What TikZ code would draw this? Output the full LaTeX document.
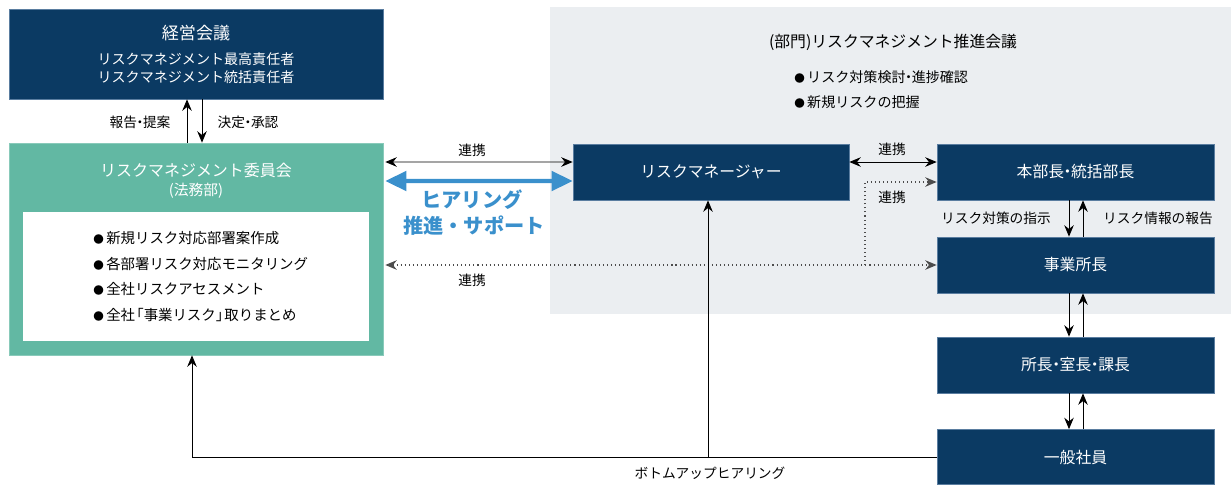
\documentclass[tikz,border=0pt]{standalone}
\usepackage{fontspec}
\setmainfont{Noto Sans CJK JP}
\usepackage{tikz}
\usetikzlibrary{arrows.meta,positioning,calc}

\definecolor{rmnavy}{HTML}{0B3A63}
\definecolor{rmedge}{HTML}{5A7DA0}
\definecolor{rmteal}{HTML}{62B8A3}
\definecolor{rmgray}{HTML}{EBEEF1}
\definecolor{rmblue}{HTML}{3A90CC}
\newcommand\ndot{\kern-.28em・\kern-.28em}
\newcommand\rmbul{{\fontsize{6}{6}\selectfont ●}\,}

\begin{document}
\begin{tikzpicture}[x=0.02cm, y=0.02cm,
  every node/.style={inner sep=0pt},
  navybox/.style={fill=rmnavy, draw=rmedge, line width=0.4pt, text=white,
    font=\fontsize{9}{11}\selectfont, minimum width=5.54cm, minimum height=1.12cm},
  lbl/.style={font=\fontsize{7.8}{9}\selectfont},
  arr/.style={-{Stealth[length=6.5pt,width=5.4pt]}, line width=0.5pt},
  arrs/.style={{Stealth[length=6.5pt,width=5.4pt]}-{Stealth[length=6.5pt,width=5.4pt]}, line width=0.5pt},
  dots/.style={dash pattern=on 0.6pt off 1.7pt, line width=0.6pt, black!70}]
\useasboundingbox (0,0) rectangle (1231,-484);
% (部門) area
\fill [rmgray] (550,-7) rectangle (1231,-314);
\node (suishinT) at (893,-42) {\fontsize{9}{11}\selectfont (部門)リスクマネジメント推進会議};
\node [anchor=west, align=left, font=\fontsize{8}{14.3}\selectfont] (suishinL) at (794,-89.5)
  {\rmbul リスク対策検討\ndot 進捗確認\\\rmbul 新規リスクの把握};
% left side
\node [navybox, minimum width=7.48cm, minimum height=1.8cm] (keiei) at (196,-54) {};
\node [text=white, font=\fontsize{9.7}{11}\selectfont] (keieiT) at (196,-33) {経営会議};
\node [text=white, align=center, font=\fontsize{8}{10.2}\selectfont] (keieiS) at (196,-68)
  {リスクマネジメント最高責任者\\リスクマネジメント統括責任者};
\node [fill=rmteal, draw=rmteal!75!white, line width=0.4pt, minimum width=7.48cm, minimum height=4.24cm] (iinkai) at (196,-249) {};
\node [fill=white, minimum width=6.92cm, minimum height=2.58cm] (naiyo) at (196,-276.5) {};
\node [text=white, font=\fontsize{9.1}{11}\selectfont] (iinkaiT) at (196,-170) {リスクマネジメント委員会};
\node [text=white, font=\fontsize{8.4}{10}\selectfont] (iinkaiS) at (196,-191) {(法務部)};
\node [anchor=west, align=left, font=\fontsize{8.2}{14.5}\selectfont] (naiyoL) at (93,-276.5)
  {\rmbul 新規リスク対応部署案作成\\\rmbul 各部署リスク対応モニタリング\\\rmbul 全社リスクアセスメント\\\rmbul 全社\kern-.4em「事業リスク」\kern-.4em 取りまとめ};
% right side
\node [navybox, minimum width=5.52cm] (mgr) at (711,-172) {リスクマネージャー};
\node [navybox] (honbu) at (1075.5,-172) {本部長\ndot 統括部長};
\node [navybox] (jigyo) at (1075.5,-265) {事業所長};
\node [navybox] (shocho) at (1075.5,-365) {所長\ndot 室長\ndot 課長};
\node [navybox, minimum height=1.1cm] (ippan) at (1075.5,-457) {一般社員};
% keiei <-> iinkai
\draw [arr] ([xshift=-0.18cm]iinkai.north) -- ([xshift=-0.18cm]keiei.south);
\draw [arr] ([xshift=0.12cm]keiei.south) -- ([xshift=0.12cm]iinkai.north);
\node [lbl] (hokoku) at (140,-122) {報告\ndot 提案};
\node [lbl] (kettei) at (248,-122) {決定\ndot 承認};
% renkei
\draw [arrs] ($(iinkai.east |- mgr.west)+(2,10)$) -- ([yshift=0.2cm]mgr.west);
\node [lbl] (renkeiA) at (472,-150) {連携};
\draw [{Triangle[length=12pt,width=11pt]}-{Triangle[length=12pt,width=11pt]}, rmblue, line width=2.3pt]
  ($(iinkai.east |- mgr.west)+(2,-9)$) -- ([yshift=-0.18cm]mgr.west);
\node [text=rmblue, font=\bfseries\fontsize{11.5}{13}\selectfont] (hearing) at (472,-200) {ヒアリング};
\node [text=rmblue, font=\bfseries\fontsize{11.5}{13}\selectfont] (suishin) at (474,-226) {推進・サポート};
\draw [arrs] ([yshift=0.2cm]mgr.east) -- ([yshift=0.2cm]honbu.west);
\node [lbl] (renkeiB) at (892,-149) {連携};
\coordinate (branch) at (865,-265);
\draw [dots, {Stealth[length=6.5pt,width=5.4pt]}-{Stealth[length=6.5pt,width=5.4pt]}] ($(iinkai.east |- jigyo.west)+(2,0)$) -- (jigyo.west);
\draw [dots, -{Stealth[length=6.5pt,width=5.4pt]}] (branch) |- ([yshift=-0.2cm]honbu.west);
\node [lbl] (renkeiC) at (472,-280) {連携};
\node [lbl] (renkeiD) at (892,-197) {連携};
% hierarchy
\draw [arr] ([xshift=-0.13cm]honbu.south) -- ([xshift=-0.13cm]jigyo.north);
\draw [arr] ([xshift=0.15cm]jigyo.north) -- ([xshift=0.15cm]honbu.south);
\node [lbl] (shiji) at (996,-218) {リスク対策の指示};
\node [lbl] (joho) at (1158,-218) {リスク情報の報告};
\draw [arr] ([xshift=-0.13cm]jigyo.south) -- ([xshift=-0.13cm]shocho.north);
\draw [arr] ([xshift=0.15cm]shocho.north) -- ([xshift=0.15cm]jigyo.south);
\draw [arr] ([xshift=-0.13cm]shocho.south) -- ([xshift=-0.13cm]ippan.north);
\draw [arr] ([xshift=0.15cm]ippan.north) -- ([xshift=0.15cm]shocho.south);
% bottom-up
\coordinate (bujoin) at (708,-458);
\draw [arr] (ippan.west) -| ([xshift=-0.08cm]iinkai.south);
\draw [arr] (bujoin) -- (bujoin |- mgr.south);
\node [lbl] (bottomup) at (710,-473) {ボトムアップヒアリング};
\end{tikzpicture}
\end{document}
